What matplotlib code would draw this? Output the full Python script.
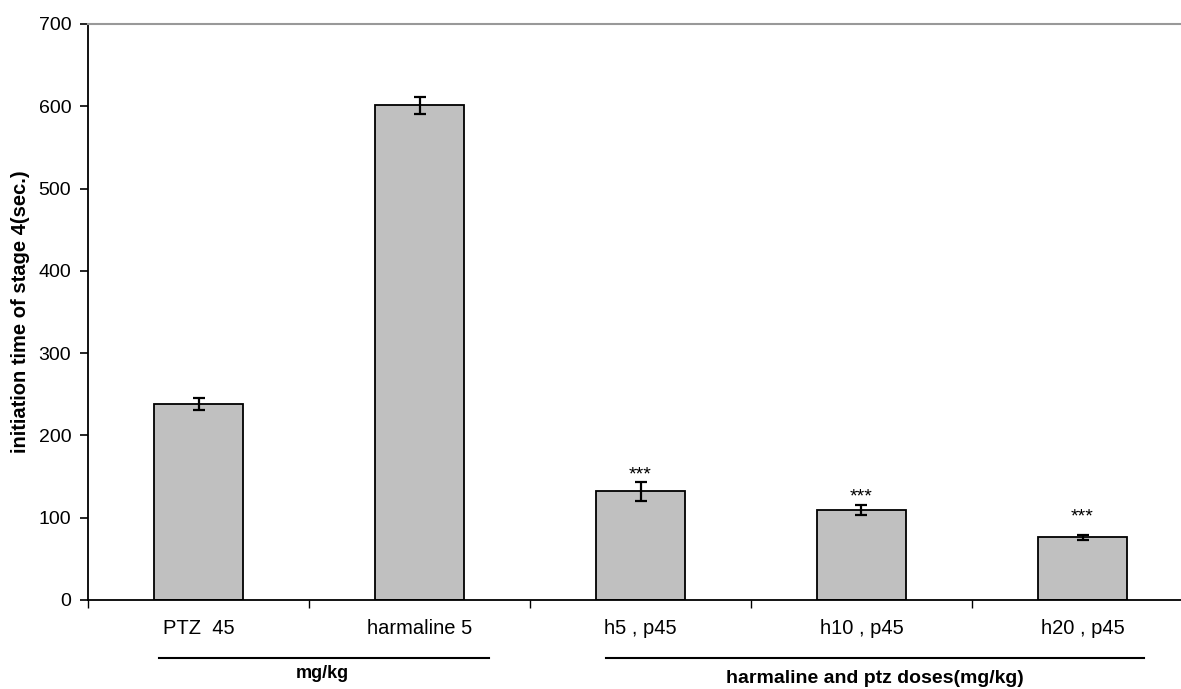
import numpy as np
import matplotlib
matplotlib.use('Agg')
import matplotlib.pyplot as plt
import matplotlib.transforms as mtransforms

plt.rcParams['font.family'] = ['Liberation Sans', 'DejaVu Sans']

groups = ['PTZ  45', 'harmaline 5', 'h5 , p45', 'h10 , p45', 'h20 , p45']
means = [238, 601, 132, 109, 76]
errors = [7.5, 10, 12, 6, 3.5]
stars = ['', '', '***', '***', '***']
star_y = [0, 0, 147, 120, 96]

x = np.arange(len(groups))

fig = plt.figure(figsize=(11.81, 6.89), dpi=100)
ax = fig.add_axes([88/1181, 1 - 600/689, 1 - 88/1181, 576/689])

ax.bar(x, means, width=0.4, color='#c0c0c0', edgecolor='black', linewidth=1.3, zorder=2)
ax.errorbar(x, means, yerr=errors, fmt='none', ecolor='black', elinewidth=1.6,
            capsize=4, capthick=1.6, zorder=3)

for xi, s, yy in zip(x, stars, star_y):
    if s:
        ax.text(xi, yy, s, ha='center', va='baseline', fontsize=14)

ax.set_yticks(range(0, 701, 100))
ax.set_xticks(x)
ax.set_xticklabels(groups, fontsize=14.5)
ax.set_xticks(np.arange(-0.5, len(groups), 1), minor=True)
# limits after the ticks, otherwise set_xticks widens the view
ax.set_ylim(0, 700)
ax.set_xlim(-0.5, -0.5 + (1181 - 88) / 221)
ax.tick_params(axis='x', which='major', length=0, pad=14)
ax.tick_params(axis='x', which='minor', length=6, width=1, direction='out')
ax.tick_params(axis='y', labelsize=14, length=6, width=1.2, pad=6, direction='out')

ax.spines['right'].set_visible(False)
ax.spines['top'].set_color('#999999')
ax.spines['top'].set_linewidth(1.5)
ax.spines['left'].set_linewidth(1.3)
ax.spines['bottom'].set_linewidth(1.3)

ax.set_ylabel('initiation time of stage 4(sec.)', fontsize=14.5, fontweight='bold', labelpad=6)

# group brackets under the x axis
trans = mtransforms.blended_transform_factory(ax.transData, ax.transAxes)
ax.plot([-0.18, 1.315], [-0.1, -0.1], color='black', lw=1.5, transform=trans, clip_on=False)
ax.plot([1.846, 4.28], [-0.1, -0.1], color='black', lw=1.5, transform=trans, clip_on=False)
ax.text(0.56, -0.127, 'mg/kg', transform=trans, ha='center', va='center',
        fontsize=13, fontweight='bold')
ax.text(3.06, -0.137, 'harmaline and ptz doses(mg/kg)', transform=trans, ha='center',
        va='center', fontsize=14, fontweight='bold')

fig.savefig('out.png', dpi=100)
